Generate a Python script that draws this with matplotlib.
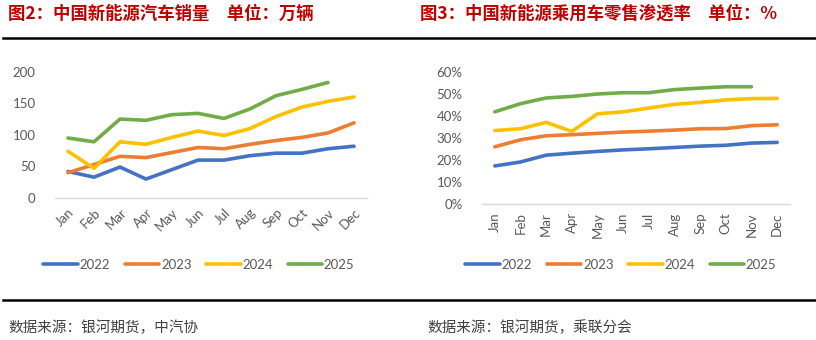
import matplotlib
matplotlib.use('Agg')
import matplotlib.pyplot as plt
from matplotlib.lines import Line2D
from matplotlib.ticker import FuncFormatter

months = ['Jan', 'Feb', 'Mar', 'Apr', 'May', 'Jun', 'Jul', 'Aug', 'Sep', 'Oct', 'Nov', 'Dec']
years = ['2022', '2023', '2024', '2025']
colors = ['#4472C4', '#ED7D31', '#FFC000', '#70AD47']

# NEV sales, 10k units
sales_2022 = [42, 33, 49, 30, 45, 60, 60, 67, 71, 71, 78, 82]
sales_2023 = [40, 53, 66, 64, 72, 80, 78, 85, 91, 96, 103, 119]
sales_2024 = [74, 47, 89, 85, 96, 106, 99, 110, 129, 144, 153, 160]
sales_2025 = [95, 89, 125, 123, 132, 134, 126, 141, 162, 172, 183]

# NEV passenger car retail penetration
pen_2022 = [0.173, 0.191, 0.222, 0.231, 0.239, 0.246, 0.251, 0.257, 0.263, 0.267, 0.277, 0.280]
pen_2023 = [0.260, 0.292, 0.310, 0.315, 0.321, 0.327, 0.331, 0.336, 0.342, 0.343, 0.356, 0.360]
pen_2024 = [0.334, 0.342, 0.371, 0.330, 0.410, 0.419, 0.436, 0.453, 0.462, 0.473, 0.479, 0.480]
pen_2025 = [0.419, 0.456, 0.482, 0.489, 0.500, 0.506, 0.506, 0.520, 0.527, 0.533, 0.533]

plt.rcParams['font.family'] = ['Lato', 'Noto Sans CJK SC', 'DejaVu Sans']
CJK = ['Noto Sans CJK SC', 'DejaVu Sans']
TICK = '#595959'

fig = plt.figure(figsize=(8.16, 3.4), dpi=100)
W, H = 816, 340


def box(x0, y0, x1, y1):
    # pixel box (top-left origin) -> figure fraction rect
    return [x0 / W, 1 - y1 / H, (x1 - x0) / W, (y1 - y0) / H]


def style(ax):
    for s in ['top', 'right', 'left']:
        ax.spines[s].set_visible(False)
    ax.spines['bottom'].set_color('#D9D9D9')
    ax.spines['bottom'].set_linewidth(1.0)
    ax.tick_params(length=0, colors=TICK, labelsize=9.5)
    ax.set_xlim(-0.5, 11.5)
    ax.set_xticks(range(12))


ax1 = fig.add_axes(box(55, 71.7, 367, 198))
for vals, c, y in zip([sales_2022, sales_2023, sales_2024, sales_2025], colors, years):
    ax1.plot(range(len(vals)), vals, color=c, lw=2.6, label=y, solid_capstyle='round')
style(ax1)
ax1.set_ylim(0, 200)
ax1.set_yticks(range(0, 201, 50))
ax1.set_xticklabels(months, rotation=45, ha='right', rotation_mode='anchor')
ax1.tick_params(axis='y', pad=14)
ax1.tick_params(axis='x', pad=6)

ax2 = fig.add_axes(box(482, 72, 790, 204))
for vals, c, y in zip([pen_2022, pen_2023, pen_2024, pen_2025], colors, years):
    ax2.plot(range(len(vals)), vals, color=c, lw=2.6, label=y, solid_capstyle='round')
style(ax2)
ax2.set_ylim(0, 0.6)
ax2.set_yticks([i / 10 for i in range(7)])
ax2.yaxis.set_major_formatter(FuncFormatter(lambda v, p: f'{v * 100:.0f}%'))
ax2.set_xticklabels(months, rotation=90, va='top')
ax2.tick_params(axis='y', pad=14)
ax2.tick_params(axis='x', pad=6)

# legends under each chart
for ax, cx in [(ax1, 199), (ax2, 621)]:
    h, l = ax.get_legend_handles_labels()
    fig.legend(h, l, loc='center', bbox_to_anchor=(cx / W, 1 - 265 / H), ncol=4,
               frameon=False, fontsize=9.5, handlelength=2.6, handletextpad=0.15,
               columnspacing=1.1, labelcolor=TICK)

# titles
title_kw = dict(color='#C00000', fontsize=12.5, fontweight='bold', family=CJK, va='center')
fig.text(8 / W, 1 - 14 / H, '图2：中国新能源汽车销量　单位：万辆', **title_kw)
fig.text(420 / W, 1 - 14 / H, '图3：中国新能源乘用车零售渗透率　单位：%', **title_kw)

# horizontal rules
for yp in [38, 300]:
    fig.add_artist(Line2D([3 / W, 1], [1 - yp / H] * 2, color='black', lw=1.8,
                          transform=fig.transFigure))

src_kw = dict(color='#404040', fontsize=10.5, family=CJK, va='center')
fig.text(8 / W, 1 - 328 / H, '数据来源：银河期货，中汽协', **src_kw)
fig.text(427 / W, 1 - 328 / H, '数据来源：银河期货，乘联分会', **src_kw)

fig.savefig('out.png', dpi=100)
